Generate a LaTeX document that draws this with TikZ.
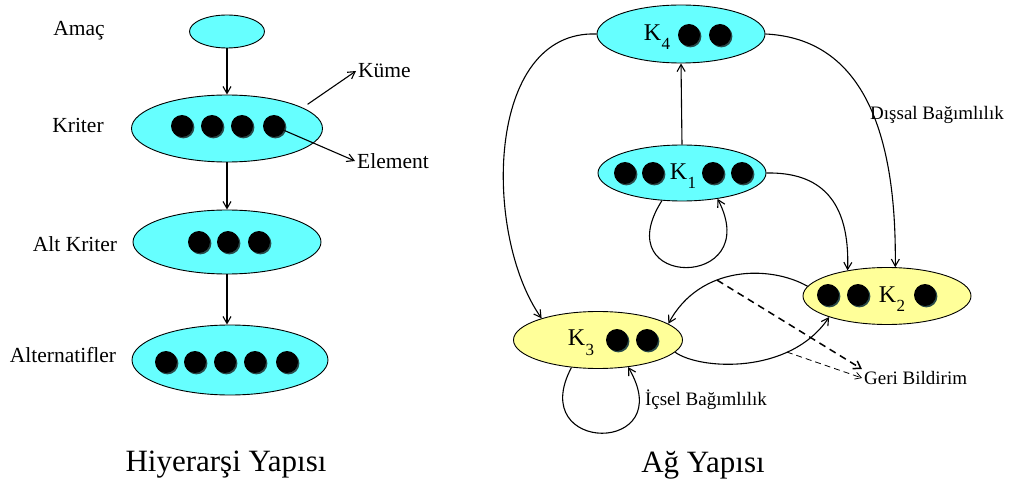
\documentclass[tikz,border=0pt]{standalone}
\usepackage{fontspec}
\setmainfont{Liberation Serif}
\usetikzlibrary{shapes.geometric,arrows.meta}
\definecolor{cyanfill}{HTML}{66FFFF}
\definecolor{yellowfill}{HTML}{FFFF99}
\definecolor{dotshadow}{HTML}{2A4A4A}
\tikzset{
  blob/.style={ellipse, draw=black, line width=0.9pt, inner sep=0pt},
  cyanblob/.style={blob, fill=cyanfill},
  yellowblob/.style={blob, fill=yellowfill},
  lbl/.style={font=\fontsize{21.5}{24}\selectfont, inner sep=2pt},
  small/.style={font=\fontsize{19}{21}\selectfont, inner sep=2pt},
  klbl/.style={font=\fontsize{24}{26}\selectfont, inner sep=0pt},
  ttl/.style={font=\fontsize{31}{34}\selectfont},
  arr/.style={line width=1.1pt, -{Straight Barb[length=7pt,width=8pt]}},
  elem/.style={circle, fill=black, minimum size=22pt, inner sep=0pt},
  elemshadow/.style={circle, fill=dotshadow, minimum size=22pt, inner sep=0pt},
}
\newcommand{\edot}[2]{\node[elemshadow] at ([xshift=1.4pt,yshift=-1.4pt]#2) {};\node[elem] (#1) at (#2) {};}
\newcommand{\Ksub}[1]{K\kern0.5pt\raisebox{-0.4em}{\fontsize{17}{17}\selectfont #1}}
\begin{document}
\begin{tikzpicture}[x=1pt,y=-1pt]
\useasboundingbox[fill=white] (0,0) rectangle (1010,484);

% ---------- Left: hierarchy ----------
\node[cyanblob, minimum width=75pt, minimum height=33pt] (amac) at (227,31.5) {};
\node[cyanblob, minimum width=191pt, minimum height=67pt] (kriter) at (227,128.5) {};
\node[cyanblob, minimum width=188pt, minimum height=64pt] (alt) at (227,242) {};
\node[cyanblob, minimum width=196pt, minimum height=70pt] (altern) at (230,360) {};

\edot{kd1}{182,126}\edot{kd2}{212,126}\edot{kd3}{242,126}\edot{kd4}{274,126}
\edot{ad1}{199,242}\edot{ad2}{228,242}\edot{ad3}{259,242}
\edot{ld1}{166,362}\edot{ld2}{195,362}\edot{ld3}{225,362}\edot{ld4}{255,362}\edot{ld5}{287,362}

\node[lbl] (lamac) at (79,31) {Amaç};
\node[lbl] (lkriter) at (78,125) {Kriter};
\node[lbl] (lalt) at (75,244) {Alt Kriter};
\node[lbl] (laltern) at (63,355) {Alternatifler};
\node[lbl, anchor=west] (kume) at (356,71) {Küme};
\node[lbl, anchor=west] (element) at (355,161) {Element};

\draw[arr] (amac.south) -- (kriter.north);
\draw[arr] (kriter.south) -- (alt.north);
\draw[arr] (alt.south) -- (alt.south |- altern.north);
\draw[arr] (kriter.17) ++(8,-2) coordinate (kst) (kst) -- (kume.west);
\draw[arr] (kd4) -- (element.west);

\node[ttl] (t1) at (226,465) {Hiyerarşi Yapısı};

% ---------- Right: network ----------
\node[cyanblob, minimum width=168pt, minimum height=58pt] (k4) at (681,34) {};
\node[cyanblob, minimum width=168pt, minimum height=56pt] (k1) at (682,173) {};
\node[yellowblob, minimum width=168pt, minimum height=57pt] (k2) at (887,296) {};
\node[yellowblob, minimum width=169pt, minimum height=57pt] (k3) at (598,340) {};

\node[klbl] (k4t) at (657,37) {\Ksub{4}};
\edot{k4d1}{689,35}\edot{k4d2}{720,35}

\edot{k1d1}{625,173}\edot{k1d2}{653,173}
\node[klbl] (k1t) at (683,176) {\Ksub{1}};
\edot{k1d3}{713,173}\edot{k1d4}{742,173}

\edot{k2d1}{828,295}\edot{k2d2}{858,295}
\node[klbl] (k2t) at (892,299) {\Ksub{2}};
\edot{k2d3}{925,295}

\node[klbl] (k3t) at (581,343) {\Ksub{3}};
\edot{k3d1}{617,340}\edot{k3d2}{647,340}

\draw[arr] (k1.north) -- (k4.south);
% self loops
\draw[arr] (k1.234) .. controls (605,290) and (765,290) .. (k1.324);
\draw[arr] (k3.226) .. controls (525,455) and (680,455) .. (k3.318);
% outer dependencies
\draw[arr] (k4.west) .. controls (485,30) and (483,235) .. (k3.159);
\draw[arr] (k4.east) .. controls (850,38) and (897,110) .. (k2.74);
\draw[arr] (k1.east) .. controls (820,172) and (850,200) .. (k2.147);
% between K2 and K3
\draw[arr] (k2.173) .. controls (770,265) and (700,265) .. coordinate[pos=0.62] (fb1) (k3.13);
\draw[arr] (k3.-9) .. controls (700,370) and (790,375) .. coordinate[pos=0.72] (fb2) (k2.200);

\node[small, anchor=west] (geri) at (862,378) {Geri Bildirim};
\node[small] (dis) at (937,115) {Dışsal Bağımlılık};
\node[small] (ic) at (706,400) {İçsel Bağımlılık};

\draw[line width=1.5pt, dash pattern=on 7pt off 5pt, -{Straight Barb[length=7pt,width=9pt]}] (fb1) -- (geri.north west);
\draw[line width=0.8pt, dash pattern=on 6pt off 4pt, -{Straight Barb[length=6pt,width=7pt]}] (fb2) -- (geri.west);

\node[ttl] (t2) at (703,465) {Ağ Yapısı};
\end{tikzpicture}
\end{document}
